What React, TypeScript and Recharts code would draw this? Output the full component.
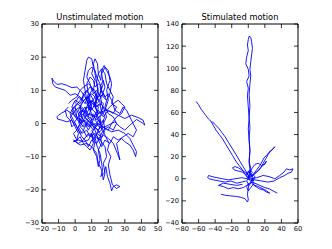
import React from "react";
import { LineChart, Line, XAxis, YAxis } from "recharts";

// left panel: unstimulated tracks, [x, y]
const unstimA = [[9,4],[7,7],[6,10],[5,13],[6,16],[7,19],[8,20],[10,19.5],[11,17],[10,15],[12,13],[11,10],[13,8],[12,5],[14,3],[12,1],[15,-1],[13,-3],[16,-2],[15,2],[18,4],[20,7],[19,10],[21,13],[20,16],[18,17],[16,15],[17,12],[15,9],[16,6],[13,5],[10,7],[8,4],[6,2],[9,0],[11,3]];
const unstimB = [[6,6],[3,8],[0,9],[-3,8.5],[-6,10],[-9,10.5],[-12,11],[-13.5,12],[-14,13.7],[-13,12.8],[-11,11.8],[-8,12],[-5,11.5],[-2,10.8],[1,11],[4,9.5],[6,8],[8,6],[10,6.5],[12,8],[14,10],[13,12.5],[14,15],[16,16.5],[18,15],[19,12],[21,10],[23,8],[22,6],[25,5],[23,3],[20,4],[17,2],[14,4],[11,2],[8,3]];
const unstimC = [[10,1],[14,3],[18,4],[22,3.5],[26,2.5],[30,1.5],[34,2.5],[38,1.8],[41,1],[42,-0.5],[40.5,0.2],[37,1.2],[33,-0.5],[30,-2],[27,-1],[24,0.5],[20,-0.5],[16,-1.5],[12,0],[9,-1],[6,1],[3,0],[0,2],[-2,4],[1,6],[4,5],[7,3]];
const unstimD = [[14,0],[18,-1.5],[22,-2.5],[26,-2],[30,-3],[33,-4.5],[35,-6.5],[37,-8.5],[36.5,-10],[35,-8],[33,-6.5],[30,-5.5],[28,-4.5],[25,-6],[26,-8.5],[27,-11],[25.5,-9],[23,-6],[20,-4.5],[17,-3.5],[15,-5],[12,-3],[9,-4],[7,-2],[4,-3],[2,-1],[4,1],[7,0]];
const unstimE = [[10,-2],[12,-4],[13,-6.5],[15,-9],[16,-12],[16.5,-14],[15.5,-16],[17.5,-15],[18.5,-13],[19.5,-16],[21,-18],[22,-20.3],[23,-19],[25,-18.5],[27,-19],[25,-19.6],[22.5,-18.5],[21,-15.5],[20,-12.5],[21.5,-10],[19.5,-8],[20.5,-6],[18,-3.5],[16,-1],[14,2],[11,4],[8,5]];
const unstimF = [[5,0],[2,1.5],[-2,3],[-5,4],[-8,3.2],[-10,2.5],[-11,2],[-10.5,1.3],[-8,1],[-5,0.5],[-2,1],[0,-1],[2,-3],[1,-5],[-1,-5.5],[2,-5],[5,-5.5],[8,-5],[10,-3],[12,-5.5],[11,-8],[13,-10],[14,-13],[15,-11],[14,-8],[16,-6],[15,-3],[12,-1],[9,1],[6,3],[3,5],[0,4],[-3,2],[-1,0],[2,2],[5,4]];
const unstimG = [[3,3],[6,5],[8,2],[10,5],[7,8],[4,6],[2,4],[5,1],[8,-1],[11,1],[13,4],[11,7],[9,9],[7,6],[10,3],[13,1],[16,3],[15,6],[12,5],[9,7],[6,4],[4,1],[1,2],[0,5],[3,7],[6,9],[9,11],[12,10],[14,7],[17,5],[19,2],[17,0],[14,-2],[11,-1],[8,1],[5,-2],[3,-1],[6,2],[9,3],[12,2]];
const unstimH = [[12,6],[14,9],[13,12],[12,15],[11,18],[12,19.5],[13.5,18],[14,15],[15.5,13],[16,16],[17.5,17.5],[19,16],[21,14],[22,12],[21,9],[19,7],[17,8],[15,11],[17,13],[18,11],[16,8],[14,7],[12,9]];
const unstimI = [[8,-3],[5,-5],[2,-6],[-1,-5],[3,-6.5],[7,-6],[10,-7],[13,-9],[14,-12],[16,-14],[17,-17],[18,-15],[17,-12],[19,-10],[18,-7],[15,-5],[12,-4]];
const unstimJ = [[0,6],[2,8],[4,7],[5,9],[7,10],[9,8],[8,6],[10,4],[12,6],[14,5],[13,2],[15,0],[17,1],[18,-2],[16,-4],[13,-3],[11,-5],[9,-3],[7,-4],[5,-2],[3,-3],[1,-1],[-1,1],[-3,3],[-1,5],[1,4],[3,2],[5,3],[7,1],[9,2],[11,0],[13,-1]];
const unstimK = [[-4,6],[-2,7],[1,8],[3,10],[5,11],[8,12],[10,11],[11,9],[13,10],[15,8],[17,9],[19,7],[18,5],[20,3],[23,2],[25,0],[23,-2],[20,-1],[17,-2],[15,-4],[13,-6],[10,-5],[8,-7],[6,-5],[4,-4],[2,-2],[0,0],[-2,-1],[-3,1],[-5,2],[-6,4],[-4,5]];
const unstimL = [[2,0],[4,2],[3,5],[5,7],[8,8],[10,10],[9,12],[7,14],[8,16],[10,17],[12,16],[13,14],[15,12],[16,10],[18,8],[20,9],[22,7],[24,4],[27,3],[29,5],[31,4],[33,2],[35,0],[37,-2],[35,-4],[32,-3],[29,-4],[26,-5],[23,-4],[21,-6],[18,-5],[16,-7],[14,-5],[12,-2],[10,0],[8,-2],[6,0],[4,-1]];
const unstimM = [[6,6],[8,9],[7,12],[9,14],[11,13],[12,11],[14,12],[16,11],[15,9],[13,7],[11,6],[13,4],[15,3],[17,5],[19,4],[21,5],[23,6],[26,7],[28,6],[30,5],[28,3],[25,2],[22,0],[20,-2],[17,-1],[14,0],[11,-2],[8,0],[5,-1],[2,1],[0,3],[-2,5],[0,7],[3,6],[5,8]];
const unstimN = [[-1,-3],[1,-2],[3,0],[2,3],[4,4],[6,3],[7,5],[9,4],[10,6],[8,8],[10,9],[12,8],[13,6],[15,7],[17,6],[16,4],[18,2],[16,0],[14,1],[12,-1],[10,-3],[11,-6],[9,-8],[7,-7],[5,-6],[3,-4],[1,-5],[-1,-3]];

// right panel: stimulated tracks
const stimA = [[1,2],[2,8],[1,15],[2,25],[1,35],[0,45],[1,55],[0,65],[-1,75],[0,82],[-2,88],[1,93],[0,99],[-3,104],[-2,110],[0,116],[-1,121],[0,126],[1,129],[3,128],[4,124],[5,118],[4,112],[3,106],[2,99],[3,93],[2,86],[1,76],[2,66],[1,56],[2,46],[1,36],[2,26],[1,16],[3,9],[2,3]];
const stimB = [[-63,70],[-60,67],[-57,63],[-54,60],[-51,57],[-48,54],[-45,52],[-42,48],[-39,44],[-35,40],[-31,36],[-27,31],[-23,26],[-19,21],[-15,16],[-11,12],[-7,8],[-4,4],[-1,1],[1,-1],[0,3],[-3,7],[-7,12],[-11,17],[-15,22],[-19,27],[-24,33],[-28,38],[-32,42],[-36,46],[-40,49],[-44,52]];
const stimC = [[2,1],[6,4],[10,8],[14,12],[17,16],[19,19],[22,21],[25,24],[28,26],[31,28],[32,29],[30,27],[27,25],[24,22],[21,18],[18,14],[15,10],[12,7],[8,5],[4,2]];
const stimD = [[3,0],[10,1],[18,3],[25,2],[32,0],[38,3],[43,6],[46,9],[50,8],[54,9],[52,6],[48,5],[44,3],[38,1],[31,-2],[24,-3],[16,-2],[8,-1],[3,-1]];
const stimE = [[-1,0],[-8,1],[-16,0],[-24,-1],[-31,0],[-38,1],[-44,2],[-48,3],[-49,1],[-47,0],[-42,-1],[-35,-2],[-28,-3],[-21,-2],[-14,-4],[-8,-3],[-3,-2]];
const stimF = [[-33,-14],[-27,-15],[-21,-15.5],[-14,-16],[-8,-17],[-4,-18],[-2,-20],[-1,-21],[0,-19],[-1,-14],[0,-9],[1,-4],[-2,-6],[-6,-8],[-12,-9],[-18,-8],[-24,-9],[-30,-7],[-36,-6],[-30,-4],[-22,-5],[-14,-6],[-7,-5]];
const stimG = [[35,-13],[30,-11],[25,-9],[20,-8],[14,-6],[8,-4],[3,-3],[7,-6],[13,-9],[18,-10],[22,-12],[26,-13],[20,-10],[12,-7],[5,-5]];
const stimH = [[0,3],[-4,6],[-8,8],[-12,10],[-16,11],[-19,10],[-17,8],[-12,7],[-7,6],[-3,4],[2,6],[5,10],[8,13],[12,14],[16,12],[20,13],[22,16],[20,14],[15,10],[10,6],[6,3]];
const stimI = [[0,0],[3,4],[6,1],[4,-3],[1,-6],[-2,-2],[2,3],[5,6],[2,8],[-1,5],[1,1],[4,-1],[7,-4],[3,-8],[0,-11],[-2,-7],[2,-4],[5,0],[3,5],[0,7],[-2,3],[1,-1],[6,-2],[8,2],[5,4],[1,0]];

const unstimTracks = [unstimA, unstimB, unstimC, unstimD, unstimE, unstimF, unstimG, unstimH, unstimI, unstimJ, unstimK, unstimL, unstimM, unstimN];
const stimTracks = [stimA, stimB, stimC, stimD, stimE, stimF, stimG, stimH, stimI];

const unstimXTicks = [-20, -10, 0, 10, 20, 30, 40, 50];
const unstimYTicks = [-30, -20, -10, 0, 10, 20, 30];
const stimXTicks = [-80, -60, -40, -20, 0, 20, 40, 60];
const stimYTicks = [-40, -20, 0, 20, 40, 60, 80, 100, 120, 140];

const FONT = "'DejaVu Sans', sans-serif";
const TICK_FS = 6.7;
const TICK_LEN = 4;

const fmt = (v: number) => String(v).replace("-", "\u2212");

function BottomTick(props: any) {
  const { x, y, payload } = props;
  const axisY = y - 2;
  return (
    <g>
      <line x1={x} x2={x} y1={axisY} y2={axisY - TICK_LEN} stroke="#000" strokeWidth={0.8} />
      <text x={x} y={axisY + 8} textAnchor="middle" fontSize={TICK_FS} fontFamily={FONT} fill="#000">
        {fmt(payload.value)}
      </text>
    </g>
  );
}

function LeftTick(props: any) {
  const { x, y, payload } = props;
  const axisX = x + 3;
  return (
    <g>
      <line x1={axisX} x2={axisX + TICK_LEN} y1={y} y2={y} stroke="#000" strokeWidth={0.8} />
      <text x={x} y={y + 2.4} textAnchor="end" fontSize={TICK_FS} fontFamily={FONT} fill="#000">
        {fmt(payload.value)}
      </text>
    </g>
  );
}

function TopTick(props: any) {
  const { x, y } = props;
  return <line x1={x} x2={x} y1={y} y2={y + TICK_LEN} stroke="#000" strokeWidth={0.8} />;
}

function RightTick(props: any) {
  const { x, y } = props;
  return <line x1={x} x2={x - TICK_LEN} y1={y} y2={y} stroke="#000" strokeWidth={0.8} />;
}

type PanelProps = {
  tracks: number[][][];
  xDomain: [number, number];
  yDomain: [number, number];
  xTicks: number[];
  yTicks: number[];
  width: number;
  margin: { top: number; right: number; bottom: number; left: number };
  yAxisWidth: number;
};

function Panel({ tracks, xDomain, yDomain, xTicks, yTicks, width, margin, yAxisWidth }: PanelProps) {
  const corners = [
    { x: xDomain[0], y: yDomain[0] },
    { x: xDomain[1], y: yDomain[1] },
  ];
  return (
    <LineChart width={width} height={249} margin={margin}>
      <XAxis
        xAxisId="b"
        type="number"
        dataKey="x"
        domain={xDomain}
        ticks={xTicks}
        interval={0}
        allowDataOverflow
        height={20}
        tickSize={0}
        tickMargin={2}
        axisLine={{ stroke: "#000", strokeWidth: 1 }}
        tick={<BottomTick />}
      />
      <XAxis
        xAxisId="t"
        orientation="top"
        type="number"
        dataKey="x"
        domain={xDomain}
        ticks={xTicks}
        interval={0}
        allowDataOverflow
        height={1}
        tickSize={0}
        tickMargin={0}
        axisLine={{ stroke: "#000", strokeWidth: 1 }}
        tick={<TopTick />}
      />
      <YAxis
        yAxisId="l"
        type="number"
        dataKey="y"
        domain={yDomain}
        ticks={yTicks}
        interval={0}
        allowDataOverflow
        width={yAxisWidth}
        tickSize={0}
        tickMargin={3}
        axisLine={{ stroke: "#000", strokeWidth: 1 }}
        tick={<LeftTick />}
      />
      <YAxis
        yAxisId="r"
        orientation="right"
        type="number"
        dataKey="y"
        domain={yDomain}
        ticks={yTicks}
        interval={0}
        allowDataOverflow
        width={1}
        tickSize={0}
        tickMargin={0}
        axisLine={{ stroke: "#000", strokeWidth: 1 }}
        tick={<RightTick />}
      />
      <Line
        xAxisId="t"
        yAxisId="r"
        data={corners}
        dataKey="y"
        stroke="none"
        dot={false}
        activeDot={false}
        isAnimationActive={false}
      />
      {tracks.map((t, i) => (
        <Line
          key={i}
          xAxisId="b"
          yAxisId="l"
          data={t.map(([x, y]) => ({ x, y }))}
          dataKey="y"
          type="linear"
          stroke="#0000ff"
          strokeWidth={0.9}
          dot={false}
          activeDot={false}
          isAnimationActive={false}
        />
      ))}
    </LineChart>
  );
}

const titleStyle: React.CSSProperties = {
  position: "absolute",
  top: 12,
  fontFamily: FONT,
  fontSize: 8.3,
  color: "#000",
  textAlign: "center",
  whiteSpace: "nowrap",
};

export default function App() {
  return (
    <div style={{ position: "absolute", left: 0, top: 0, width: 332, height: 249, background: "#fff" }}>
      <div style={{ position: "absolute", left: 0, top: 0 }}>
        <Panel
          tracks={unstimTracks}
          xDomain={[-20, 50]}
          yDomain={[-30, 30]}
          xTicks={unstimXTicks}
          yTicks={unstimYTicks}
          width={166}
          margin={{ top: 23, right: 7, bottom: 6, left: 8 }}
          yAxisWidth={34}
        />
      </div>
      <div style={{ position: "absolute", left: 166, top: 0 }}>
        <Panel
          tracks={stimTracks}
          xDomain={[-80, 60]}
          yDomain={[-40, 140]}
          xTicks={stimXTicks}
          yTicks={stimYTicks}
          width={166}
          margin={{ top: 23, right: 33, bottom: 6, left: 0 }}
          yAxisWidth={16}
        />
      </div>
      <div style={{ ...titleStyle, left: 42, width: 116 }}>Unstimulated motion</div>
      <div style={{ ...titleStyle, left: 182, width: 116 }}>Stimulated motion</div>
    </div>
  );
}
